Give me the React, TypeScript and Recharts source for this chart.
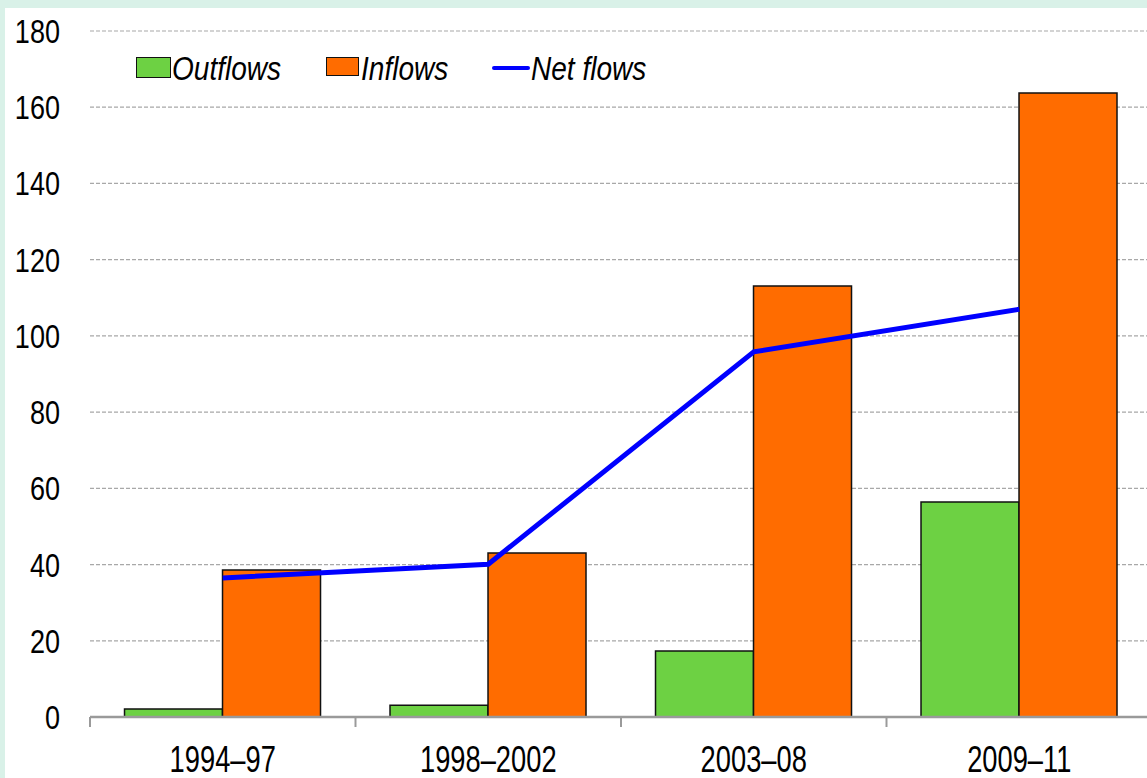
import React from "react";
import {
  ComposedChart,
  Bar,
  Line,
  XAxis,
  YAxis,
  CartesianGrid,
  Legend,
} from "recharts";

const periods = ["1994–97", "1998–2002", "2003–08", "2009–11"];
const outflows = [2.1, 3.1, 17.3, 56.4];
const inflows = [38.6, 43.0, 113.1, 163.7];
const netFlows = [36.5, 40.1, 95.8, 107.0];
const yTicks = [0, 20, 40, 60, 80, 100, 120, 140, 160, 180];

const data = periods.map((p, i) => ({
  period: p,
  outflows: outflows[i],
  inflows: inflows[i],
  net: netFlows[i],
}));

const FONT = "'Liberation Sans', Arial, sans-serif";
const GREEN = "#6dd143";
const ORANGE = "#ff6c00";
const BLUE = "#0000ff";
const AXIS_GRAY = "#9a9a9a";

const YTick = (props: any) => {
  const { x, y, payload } = props;
  return (
    <text
      transform={`translate(${x},${y + 12}) scale(0.82,1)`}
      textAnchor="end"
      fontFamily={FONT}
      fontSize={33}
      fill="#000"
    >
      {payload.value}
    </text>
  );
};

const XTick = (props: any) => {
  const { x, y, payload, index, visibleTicksCount } = props;
  const half = payload.offset || 0;
  const isLast = index === (visibleTicksCount ?? periods.length) - 1;
  return (
    <g>
      <line x1={x - half} x2={x - half} y1={y} y2={y + 10} stroke={AXIS_GRAY} strokeWidth={2} />
      {isLast && (
        <line x1={x + half} x2={x + half} y1={y} y2={y + 10} stroke={AXIS_GRAY} strokeWidth={2} />
      )}
      <text
        transform={`translate(${x},${y + 55}) scale(0.78,1.03)`}
        textAnchor="middle"
        fontFamily={FONT}
        fontSize={35}
        fill="#000"
      >
        {payload.value}
      </text>
    </g>
  );
};

const textStyle: React.CSSProperties = {
  position: "absolute",
  top: 0,
  fontFamily: FONT,
  fontStyle: "italic",
  fontSize: 33,
  lineHeight: "38px",
  color: "#000",
  transform: "scaleX(0.85)",
  transformOrigin: "left center",
  whiteSpace: "nowrap",
};

const LegendContent = () => (
  <div style={{ position: "relative", width: 1147, height: 40 }}>
    <span
      style={{
        position: "absolute",
        left: 136,
        top: 7,
        width: 33,
        height: 19,
        background: GREEN,
        border: "1.5px solid #111",
      }}
    />
    <span style={{ ...textStyle, left: 172 }}>Outflows</span>
    <span
      style={{
        position: "absolute",
        left: 326,
        top: 7,
        width: 31,
        height: 17,
        background: ORANGE,
        border: "1.5px solid #111",
      }}
    />
    <span style={{ ...textStyle, left: 361 }}>Inflows</span>
    <span
      style={{
        position: "absolute",
        left: 492,
        top: 16,
        width: 38,
        height: 4,
        background: BLUE,
        borderRadius: 2,
      }}
    />
    <span style={{ ...textStyle, left: 531 }}>Net flows</span>
  </div>
);

export default function App() {
  return (
    <div
      style={{
        position: "fixed",
        left: 0,
        top: 0,
        width: 1147,
        height: 778,
        background: "#d9f1e8",
        overflow: "hidden",
      }}
    >
      <div
        style={{
          position: "absolute",
          left: 5,
          top: 8,
          width: 1160,
          height: 790,
          background: "#ffffff",
        }}
      />
      <div style={{ position: "absolute", left: 0, top: 0 }}>
        <ComposedChart
          width={1160}
          height={778}
          data={data}
          margin={{ top: 31, right: 8, bottom: 0, left: 0 }}
          barCategoryGap="13%"
          barGap={0}
        >
          <CartesianGrid
            horizontal={true}
            vertical={false}
            stroke="#a8a8a8"
            strokeDasharray="4 2"
            strokeWidth={1.2}
          />
          <XAxis
            dataKey="period"
            type="category"
            height={61}
            axisLine={{ stroke: AXIS_GRAY, strokeWidth: 2.5 }}
            tickLine={false}
            tickSize={0}
            tickMargin={0}
            tick={<XTick />}
            interval={0}
          />
          <YAxis
            domain={[0, 180]}
            ticks={yTicks}
            width={90}
            axisLine={false}
            tickLine={false}
            tickSize={0}
            tickMargin={30}
            tick={<YTick />}
            interval={0}
          />
          <Legend
            layout="horizontal"
            verticalAlign="middle"
            align="center"
            content={<LegendContent />}
            wrapperStyle={{ position: "absolute", top: 50, left: 0, width: 1147, height: 40 }}
          />
          <Bar
            dataKey="outflows"
            name="Outflows"
            fill={GREEN}
            stroke="#111"
            strokeWidth={1.5}
            isAnimationActive={false}
          />
          <Bar
            dataKey="inflows"
            name="Inflows"
            fill={ORANGE}
            stroke="#111"
            strokeWidth={1.5}
            isAnimationActive={false}
          />
          <Line
            dataKey="net"
            name="Net flows"
            type="linear"
            stroke={BLUE}
            strokeWidth={5}
            dot={false}
            activeDot={false}
            isAnimationActive={false}
          />
        </ComposedChart>
      </div>
    </div>
  );
}
